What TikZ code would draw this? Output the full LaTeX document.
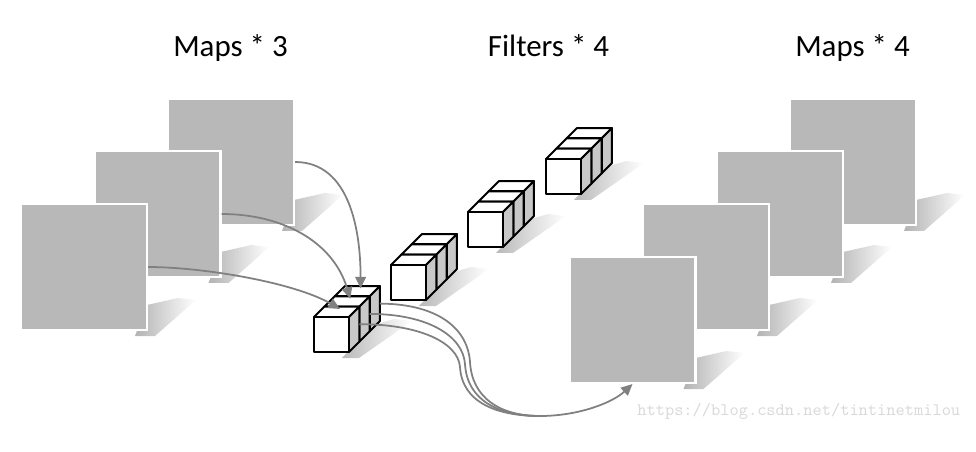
\documentclass[tikz,border=0pt]{standalone}
\usepackage{fontspec}
\setmainfont{Carlito}
\usetikzlibrary{arrows.meta,positioning}
\definecolor{mapgray}{RGB}{184,184,184}
\definecolor{sidegray}{RGB}{200,200,200}

\tikzset{
  map/.style={rectangle,fill=mapgray,draw=white,line width=1.2pt,minimum size=2.52cm,inner sep=0pt},
  cubeface/.style={fill=white,draw=black,line width=1.1pt,line join=round},
  cubeside/.style={fill=sidegray,draw=black,line width=1.1pt,line join=round},
  title/.style={font=\fontsize{17.6}{20}\selectfont,anchor=base},
  flow/.style={draw=gray,line width=1pt},
  wmark/.style={font=\ttfamily\fontsize{10}{12}\selectfont,text=gray!30,anchor=base west,inner sep=0pt}
}

% map with its shadow: name, centre x, centre y
\newcommand{\mapsq}[3]{%
  \shade[left color=gray!60,right color=white] (#2+51,#3+69) -- (#2+71,#3+69) -- (#2+112,#3+33) -- (#2+94,#3+31) -- (#2+63,#3+38) -- cycle;
  \node[map] (#1) at (#2,#3) {};}

% filter of three cubes: name, front face corner x, y
\newcommand{\filterrow}[3]{%
  \shade[left color=gray!55,right color=white] (#2+28,#3+41) -- (#2+45,#3+41) -- (#2+98,#3+4) -- (#2+80,#3+2) -- (#2+60,#3+8) -- cycle;
  \foreach \k in {2,1,0}{
    \begin{scope}[shift={(#2+\k*10.3,#3-\k*10.3)}]
      \filldraw[cubeface] (0,0) -- (10.3,-10.3) -- (45.3,-10.3) -- (35,0) -- cycle;
      \filldraw[cubeside] (35,0) -- (45.3,-10.3) -- (45.3,24.7) -- (35,35) -- cycle;
      \filldraw[cubeface] (0,0) rectangle (35,35);
      \coordinate (#1t\k) at (26,-8);
      \coordinate (#1o\k) at (45.3,7.2);
    \end{scope}
  }}

\begin{document}
\begin{tikzpicture}[x=0.02cm,y=-0.02cm,>={Triangle[length=6.5pt,width=6pt]}]
\useasboundingbox (0,0) rectangle (976,452);

\node[title] (t0) at (230.5,56.7) {Maps * 3};
\node[title] (t1) at (548.5,56.7) {Filters * 4};
\node[title] (t2) at (852.5,56.7) {Maps * 4};

% input maps
\mapsq{m0}{231}{162}
\mapsq{m1}{157.5}{214}
\mapsq{m2}{84}{267}

% output maps
\mapsq{p0}{853}{162}
\mapsq{p1}{780}{214}
\mapsq{p2}{706}{267}
\mapsq{p3}{632.5}{320}

% filters
\filterrow{f3}{546}{159}
\filterrow{f2}{468}{212}
\filterrow{f1}{391}{265}
\filterrow{f0}{314}{317}

\path (m0.east) edge[flow,->,out=0,in=90] (f0t2)
(m1.east) edge[flow,->,out=0,in=107] (f0t1)
(m2.east) edge[flow,->,out=0,in=150,looseness=0.7] (f0t0);

\coordinate (mg) at (540,416);
\draw[flow] (f0o2) .. controls (440,304) and (468,330) .. (470,362) .. controls (472,398) and (500,416) .. (mg);
\draw[flow] (f0o1) .. controls (428,314) and (463,336) .. (465,364) .. controls (467,400) and (498,416) .. (mg);
\draw[flow] (f0o0) .. controls (418,324) and (458,342) .. (460,367) .. controls (462,402) and (496,416) .. (mg);
\draw[flow,->] (mg) .. controls (578,416) and (612,403) .. (p3.south);

\node[wmark] (url) at (637,415) {https://blog.csdn.net/tintinetmilou};

\end{tikzpicture}
\end{document}
